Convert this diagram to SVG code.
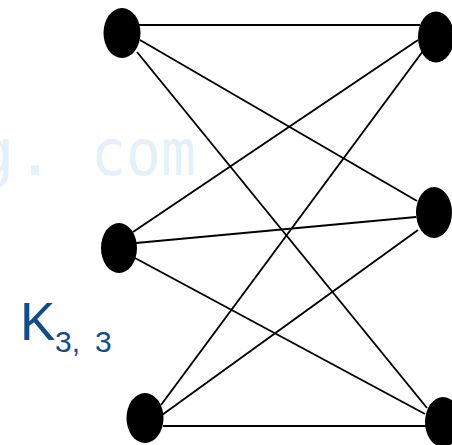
<svg xmlns="http://www.w3.org/2000/svg" width="452" height="445" viewBox="0 0 452 445">
<style>
.node{fill:#000}
.edge{stroke:#000;stroke-width:1.9;fill:none}
.wm{font-family:"DejaVu Sans Mono",monospace;fill:#e4f1fa;font-size:64px}
.lbl{font-family:"Liberation Sans",Arial,sans-serif;fill:#0f4c8a}
</style>
<rect width="452" height="445" fill="#fff"/>
<g id="watermark">
<text class="wm" x="-24" y="175">g</text>
<text class="wm" x="35" y="175" text-anchor="middle">.</text>
<text class="wm" x="91" y="175" textLength="105" lengthAdjust="spacingAndGlyphs">com</text>
</g>
<g id="connectors">
<line class="edge" x1="138" y1="25" x2="420" y2="25"/>
<line class="edge" x1="140" y1="40" x2="417" y2="201"/>
<line class="edge" x1="137" y1="52" x2="427" y2="408"/>
<line class="edge" x1="418" y1="40" x2="133" y2="232"/>
<line class="edge" x1="423" y1="51" x2="161" y2="405"/>
<line class="edge" x1="136" y1="243" x2="416" y2="217"/>
<line class="edge" x1="135" y1="258" x2="425" y2="414"/>
<line class="edge" x1="418" y1="230" x2="162" y2="415"/>
<line class="edge" x1="163" y1="426" x2="430" y2="426"/>
</g>
<g id="n1"><ellipse class="node" cx="122" cy="33" rx="18.5" ry="25"/></g>
<g id="n2"><ellipse class="node" cx="119" cy="248" rx="18" ry="25"/></g>
<g id="n3"><ellipse class="node" cx="145" cy="418" rx="18.5" ry="25"/></g>
<g id="n4"><ellipse class="node" cx="436" cy="37" rx="18" ry="25.5"/></g>
<g id="n5"><ellipse class="node" cx="434" cy="212.5" rx="18" ry="25.5"/></g>
<g id="n6"><ellipse class="node" cx="443" cy="422" rx="18" ry="25"/></g>
<g id="label">
<text class="lbl" x="20" y="340" font-size="53">K</text>
<text class="lbl" x="55" y="352" font-size="30">3,</text>
<text class="lbl" x="95" y="352" font-size="30">3</text>
</g>
</svg>
